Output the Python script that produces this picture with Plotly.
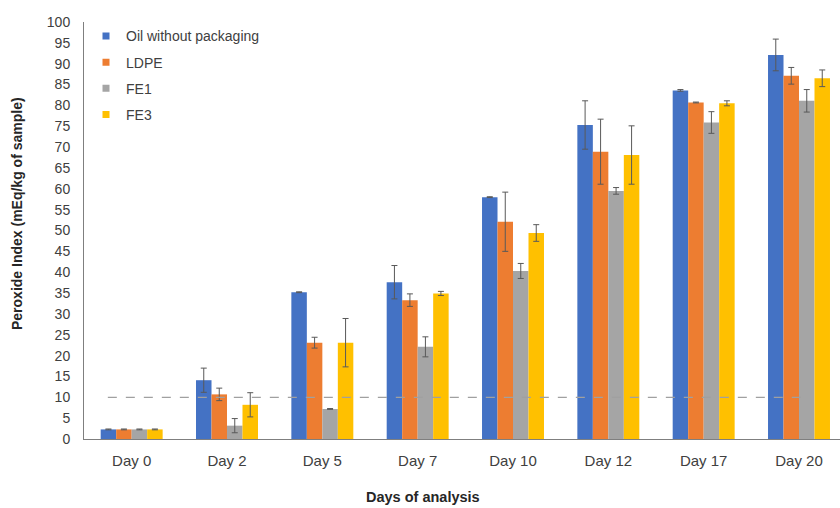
import plotly.graph_objects as go

days = ["Day 0", "Day 2", "Day 5", "Day 7", "Day 10", "Day 12", "Day 17", "Day 20"]

oil_vals = [2.3, 14.1, 35.2, 37.6, 58.0, 75.3, 83.6, 92.1]
oil_err = [0.1, 2.9, 0.1, 4.0, 0.1, 5.8, 0.2, 3.8]

ldpe_vals = [2.3, 10.7, 23.1, 33.3, 52.1, 68.9, 80.7, 87.1]
ldpe_err = [0.1, 1.5, 1.3, 1.5, 7.1, 7.8, 0.1, 2.0]

fe1_vals = [2.3, 3.2, 7.2, 22.1, 40.3, 59.5, 75.9, 81.1]
fe1_err = [0.1, 1.7, 0.1, 2.4, 1.8, 0.8, 2.6, 2.7]

fe3_vals = [2.3, 8.2, 23.1, 34.9, 49.4, 68.1, 80.5, 86.5]
fe3_err = [0.1, 2.9, 5.8, 0.5, 2.0, 7.0, 0.6, 2.0]

limit_value = 10

series = [
    ("Oil without packaging", oil_vals, oil_err, "#4472C4"),
    ("LDPE", ldpe_vals, ldpe_err, "#ED7D31"),
    ("FE1", fe1_vals, fe1_err, "#A5A5A5"),
    ("FE3", fe3_vals, fe3_err, "#FFC000"),
]

font_family = "Liberation Sans, Arial, sans-serif"

fig = go.Figure()
for i, (name, vals, err, color) in enumerate(series):
    fig.add_trace(go.Bar(
        x=list(range(len(days))),
        y=vals,
        name=name,
        legendgroup=f"g{i}",
        showlegend=False,
        marker=dict(color=color, line=dict(width=0)),
        error_y=dict(type="data", array=err, visible=True,
                     color="#595959", thickness=1, width=3),
    ))
    # small square legend key for each series
    fig.add_trace(go.Scatter(
        x=[None], y=[None], mode="markers", name=name,
        legendgroup=f"g{i}",
        marker=dict(symbol="square", size=7, color=color),
    ))

# reference limit line
fig.add_shape(type="line", xref="x", yref="y",
              x0=-0.25, x1=7.05, y0=limit_value, y1=limit_value,
              line=dict(color="#A0A0A0", width=1.2, dash="dash"))

fig.update_layout(
    width=840, height=508,
    margin=dict(l=84, r=0, t=22, b=69),
    paper_bgcolor="white", plot_bgcolor="white",
    barmode="group", bargap=0.35, bargroupgap=0.0,
    font=dict(family=font_family, size=14, color="#404040"),
    showlegend=True,
    legend=dict(x=2 / 756, y=1.004, xanchor="left", yanchor="top",
                bgcolor="rgba(0,0,0,0)", tracegroupgap=5,
                font=dict(size=14, color="#404040"),
                itemwidth=30),
    xaxis=dict(
        range=[-0.5, 7.43],
        tickmode="array", tickvals=list(range(len(days))), ticktext=days,
        showline=True, linecolor="#7F7F7F", linewidth=1,
        ticks="", showgrid=False, zeroline=False,
        ticklabelstandoff=8,
        tickfont=dict(size=15, color="#404040"),
    ),
    yaxis=dict(
        range=[0, 100], dtick=5,
        showline=True, linecolor="#7F7F7F", linewidth=1,
        ticks="", showgrid=False, zeroline=False,
        ticklabelstandoff=10,
        tickfont=dict(size=14, color="#404040"),
    ),
    annotations=[
        dict(text="<b>Peroxide Index (mEq/kg of sample)</b>",
             xref="paper", yref="paper", textangle=-90,
             x=(17 - 84) / 756, y=1 - (214 - 22) / 417,
             xanchor="center", yanchor="middle", showarrow=False,
             font=dict(size=14, color="#262626")),
        dict(text="<b>Days of analysis</b>",
             xref="paper", yref="paper",
             x=(423 - 84) / 756, y=-(497 - 439) / 417,
             xanchor="center", yanchor="middle", showarrow=False,
             font=dict(size=14.5, color="#262626")),
    ],
)

fig.write_html("out.html")
